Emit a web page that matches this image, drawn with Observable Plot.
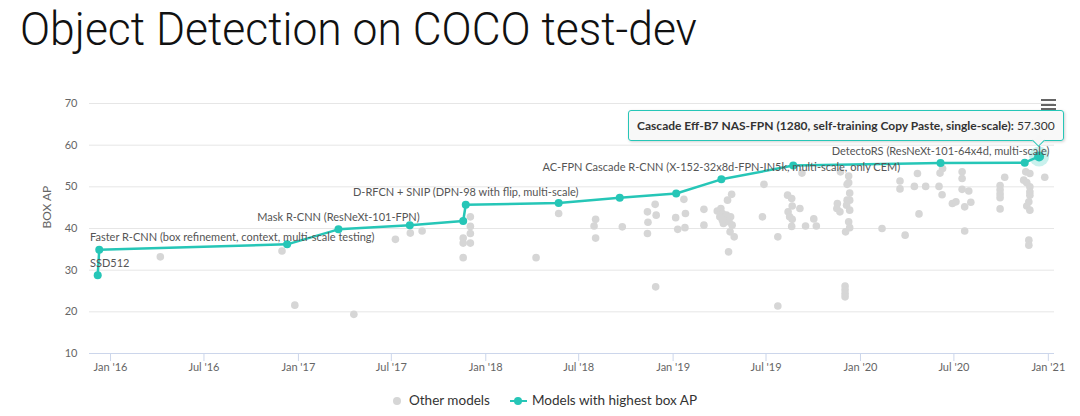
<!DOCTYPE html>
<html>
<head>
<meta charset="utf-8">
<script src="https://cdn.jsdelivr.net/npm/d3@7"></script>
<script src="https://cdn.jsdelivr.net/npm/@observablehq/plot@0.6"></script>
<style>
  body { margin: 0; background: #fff; }
  #wrap { position: relative; width: 1080px; height: 416px; overflow: hidden; font-family: Lato, "Noto Sans", sans-serif; }
  #title { position: absolute; left: 0; top: 0; }
  #chart { position: absolute; left: 0; top: 60px; }
  .tip { position: absolute; white-space: nowrap; font-size: 12px; color: #333; background: rgba(247,247,247,0.92);
         border: 1px solid #26c6b7; border-radius: 3px; padding: 7px 8px 7px 8px; line-height: 15px;
         box-shadow: 1px 1px 3px rgba(0,0,0,0.18); }
  .tip b { font-weight: 700; }
  .tip .arrow { position: absolute; width: 8px; height: 8px; background: rgb(247,247,247);
         border-right: 1px solid #26c6b7; border-bottom: 1px solid #26c6b7; transform: rotate(45deg); bottom: -5px; }
  .menu { position: absolute; left: 1041px; top: 99px; width: 15px; }
  .menu div { height: 2px; background: #666; margin-bottom: 2.5px; }
  .legend { position: absolute; top: 392px; left: 0; width: 1080px; height: 20px; font-size: 13.5px; color: #333; }
  .legend span { position: absolute; top: 0px; }
</style>
</head>
<body>
<div id="wrap">
  <svg id="title" width="1080" height="60"></svg>
  <div id="chart"></div>
</div>
<script>
// ---------- data ----------
const titleText = "Object Detection on COCO test-dev";
const yLabel = "BOX AP";
const legendOther = "Other models";
const legendBest = "Models with highest box AP";

const xDomain = ["2015-11-21", "2021-01-13"];
const xTicks = ["2016-01-01", "2016-07-01", "2017-01-01", "2017-07-01", "2018-01-01", "2018-07-01",
                "2019-01-01", "2019-07-01", "2020-01-01", "2020-07-01", "2021-01-01"];
const yTicks = [10, 20, 30, 40, 50, 60, 70];

// models with highest box AP (frontier)
const bestDates = ["2015-12-07", "2015-12-10", "2016-12-10", "2017-03-20", "2017-08-06", "2017-11-18",
                   "2017-11-23", "2018-05-23", "2018-09-19", "2019-01-07", "2019-04-05", "2019-08-23",
                   "2020-06-05", "2020-11-16", "2020-12-14"];
const bestAP = [28.8, 34.9, 36.2, 39.8, 40.8, 41.8, 45.7, 46.1, 47.4, 48.4, 51.8, 55.1, 55.7, 55.8, 57.3];
const bestLabels = ["SSD512", "Faster R-CNN (box refinement, context, multi-scale testing)", "",
                    "Mask R-CNN (ResNeXt-101-FPN)", "", "", "D-RFCN + SNIP (DPN-98 with flip, multi-scale)",
                    "", "", "", "AC-FPN Cascade R-CNN (X-152-32x8d-FPN-IN5k, multi-scale, only CEM)", "",
                    "DetectoRS (ResNeXt-101-64x4d, multi-scale)", "",
                    "Cascade Eff-B7 NAS-FPN (1280, self-training Copy Paste, single-scale)"];
const hoveredIndex = 14;

// other models
const otherDates = [
  "2016-04-07", "2016-11-30", "2016-12-25", "2017-04-19", "2017-07-09", "2017-08-07", "2017-08-30",
  "2017-12-02", "2017-12-02", "2017-12-02", "2017-12-02", "2017-11-18", "2017-11-18", "2017-11-18",
  "2018-04-09", "2018-05-23", "2018-08-03", "2018-07-31", "2018-08-03", "2018-09-24",
  "2018-11-12", "2018-11-27", "2018-11-29", "2018-11-13", "2018-11-12", "2018-11-28",
  "2019-01-22", "2019-01-06", "2019-01-25", "2019-01-10", "2019-01-24", "2019-03-02", "2019-03-02",
  "2019-03-28", "2019-04-04", "2019-04-07", "2019-04-02", "2019-04-10", "2019-04-15", "2019-04-23",
  "2019-04-20", "2019-04-26", "2019-04-09", "2019-04-22", "2019-04-30", "2019-04-19", "2019-04-17",
  "2019-04-25", "2019-04-07",
  "2019-06-27", "2019-06-24", "2019-07-24", "2019-07-24", "2019-08-12", "2019-08-20", "2019-08-21",
  "2019-08-13", "2019-08-16", "2019-08-21", "2019-09-05", "2019-08-20", "2019-09-16", "2019-10-02",
  "2019-10-07", "2019-09-09",
  "2019-11-23", "2019-12-09", "2019-12-09", "2019-12-06", "2019-12-11", "2019-12-06", "2019-12-11",
  "2019-12-05", "2019-11-17", "2019-11-16", "2019-11-22", "2019-12-11", "2019-12-09", "2019-12-11",
  "2019-12-03", "2019-12-02", "2019-12-02", "2019-12-02", "2019-12-02",
  "2020-02-12", "2020-03-18", "2020-03-18", "2020-03-28", "2020-04-15", "2020-04-21", "2020-04-24",
  "2020-05-07", "2020-06-02", "2020-06-04", "2020-06-08", "2020-06-09", "2020-06-28", "2020-07-05",
  "2020-07-17", "2020-07-17", "2020-07-17", "2020-07-30", "2020-07-22", "2020-08-03", "2020-07-22",
  "2020-10-08", "2020-09-29", "2020-09-29", "2020-09-29", "2020-09-29", "2020-09-29",
  "2020-11-18", "2020-11-26", "2020-11-14", "2020-11-20", "2020-11-26", "2020-11-26", "2020-11-26",
  "2020-11-24", "2020-11-20", "2020-11-26", "2020-11-24", "2020-11-24", "2020-12-25"
];
const otherAP = [
  33.2, 34.6, 21.6, 19.4, 37.4, 38.9, 39.4,
  42.8, 40.5, 38.8, 36.5, 37.7, 36.5, 33.0,
  33.0, 43.6, 42.2, 40.6, 37.7, 40.4,
  44.0, 45.8, 43.2, 41.5, 38.8, 26.0,
  47.0, 42.6, 43.6, 39.8, 40.2, 44.6, 40.8,
  44.2, 44.8, 43.6, 42.8, 42.4, 43.2, 42.8,
  41.6, 40.8, 41.2, 39.2, 38.0, 34.4, 46.8,
  48.2, 42.0,
  50.6, 42.8, 38.0, 21.4, 48.0, 47.2, 45.4,
  44.0, 42.8, 42.2, 44.8, 40.5, 40.6, 42.3,
  40.6, 53.3,
  53.6, 52.6, 51.0, 50.6, 48.5, 46.8, 46.8,
  45.6, 46.0, 44.8, 44.0, 44.4, 41.6, 40.2,
  39.2, 26.2, 25.3, 24.4, 23.6,
  40.0, 51.4, 49.5, 38.4, 50.1, 53.2, 43.5,
  50.1, 50.1, 53.3, 48.1, 54.4, 46.0, 46.4,
  53.6, 52.0, 49.4, 49.0, 45.2, 46.3, 39.4,
  52.3, 50.3, 49.3, 48.3, 47.4, 44.7,
  53.6, 53.2, 51.6, 51.0, 50.0, 48.8, 48.0,
  46.4, 45.4, 44.4, 37.2, 36.0, 52.3
];

// ---------- build ----------
const teal = "#26c6b7";
const gray = "#d6d6d6";
const best = bestDates.map((d, i) => ({date: new Date(d), ap: bestAP[i], label: bestLabels[i]}));
const others = otherDates.map((d, i) => ({date: new Date(d), ap: otherAP[i]}));
const hovered = best[hoveredIndex];

// title
const tsvg = d3.select("#title");
tsvg.append("text").attr("x", 20).attr("y", 45)
  .attr("font-family", "Roboto, 'Open Sans', sans-serif").attr("font-weight", 300)
  .attr("font-size", 46).attr("fill", "#111")
  .attr("textLength", 677).attr("lengthAdjust", "spacingAndGlyphs")
  .text(titleText);

const chart = Plot.plot({
  width: 1080, height: 326,
  marginTop: 43, marginBottom: 33, marginLeft: 89, marginRight: 26,
  style: {fontFamily: "Lato, 'Noto Sans', sans-serif", fontSize: "11px", color: "#666", background: "transparent", overflow: "visible"},
  x: {type: "utc", domain: xDomain.map(d => new Date(d))},
  y: {domain: [10, 70]},
  marks: [
    Plot.ruleY(yTicks.filter(v => v > 10), {stroke: "#e6e6e6", strokeWidth: 1}),
    Plot.ruleY([10], {stroke: "#ccd6eb", strokeWidth: 1}),
    Plot.axisX({ticks: xTicks.map(d => new Date(d)), tickFormat: d3.utcFormat("%b '%y"),
                tickSize: 8, tickPadding: 2, stroke: "#ccd6eb", fill: "#666", label: null}),
    Plot.axisY({ticks: yTicks, tickSize: 0, tickPadding: 12, fill: "#666", label: null}),
    Plot.text([yLabel], {frameAnchor: "left", text: d => d, rotate: -90, dx: -42, fontSize: 12, fill: "#666"}),
    Plot.dot(others, {x: "date", y: "ap", r: 3.8, fill: gray}),
    Plot.line(best, {x: "date", y: "ap", stroke: teal, strokeWidth: 2.5}),
    Plot.dot([hovered], {x: "date", y: "ap", r: 10, fill: teal, fillOpacity: 0.25}),
    Plot.dot(best, {x: "date", y: "ap", r: 4, fill: teal}),
    Plot.dot([hovered], {x: "date", y: "ap", r: 5, fill: teal}),
    Plot.text(best.filter(d => d.label && d !== hovered), {x: "date", y: "ap", text: "label", dy: -12,
              fill: "#555", fontSize: 11, className: "dlabels"})
  ]
});
document.getElementById("chart").appendChild(chart);

// justify labels inside the plot area (like the original)
const svgRect = chart.getBoundingClientRect();
const left = 89, right = 1080 - 26;
chart.querySelectorAll(".dlabels text").forEach(t => {
  const r = t.getBoundingClientRect();
  const l = r.left - svgRect.left, rr = r.right - svgRect.left;
  let shift = 0;
  if (l < left) shift = left + 1 - l;
  else if (rr > right) shift = right - rr;
  if (shift) t.setAttribute("transform", (t.getAttribute("transform") || "") + ` translate(${shift},0)`);
});

// tooltip anchored to hovered point
const px = chart.scale("x").apply(hovered.date);
const py = 60 + chart.scale("y").apply(hovered.ap);
const wrap = document.getElementById("wrap");
const tip = document.createElement("div");
tip.className = "tip";
tip.style.right = (1080 - (px + 25)) + "px";
tip.style.bottom = (416 - (py - 15)) + "px";
tip.innerHTML = `<b>${hovered.label}:</b> ${hovered.ap.toFixed(3)}<div class="arrow" style="right:20px"></div>`;
wrap.appendChild(tip);

// context menu icon
const menu = document.createElement("div");
menu.className = "menu";
menu.innerHTML = "<div></div><div></div><div></div>";
wrap.appendChild(menu);

// legend
const legend = document.createElement("div");
legend.className = "legend";
legend.innerHTML = `
  <span style="left:393px;top:5px;width:8px;height:8px;border-radius:50%;background:${gray}"></span>
  <span style="left:409px">${legendOther}</span>
  <span style="left:510px;top:8px;width:17px;height:2px;background:${teal}"></span>
  <span style="left:514px;top:5px;width:8px;height:8px;border-radius:50%;background:${teal}"></span>
  <span style="left:532px">${legendBest}</span>`;
wrap.appendChild(legend);
</script>
</body>
</html>
